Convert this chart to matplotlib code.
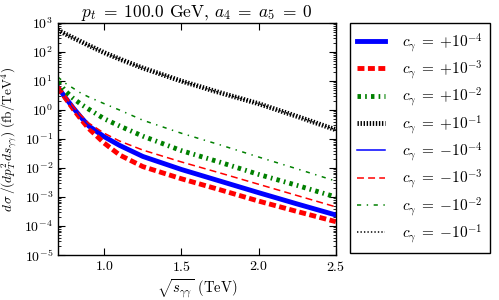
import numpy as np
import matplotlib
matplotlib.use("Agg")
import matplotlib.pyplot as plt

plt.rcParams['font.family'] = 'serif'
plt.rcParams['font.serif'] = ['cmr10', 'DejaVu Serif']
plt.rcParams['mathtext.fontset'] = 'cm'
plt.rcParams['axes.unicode_minus'] = False
plt.rcParams['axes.formatter.use_mathtext'] = True
plt.rcParams['lines.scale_dashes'] = False

# sqrt(s) grid in TeV, curves as log10 of the cross section
sqrt_s = [0.7, 0.75, 0.8, 0.85, 0.9, 1.0, 1.1, 1.25, 1.5, 1.75, 2.0, 2.25, 2.5]

log_p4 = [0.79, 0.42, 0.07, -0.25, -0.55, -0.92, -1.22, -1.60, -2.05, -2.45, -2.85, -3.24, -3.62]
log_p3 = [0.79, 0.40, 0.03, -0.32, -0.64, -1.14, -1.55, -1.95, -2.37, -2.75, -3.14, -3.50, -3.85]
log_p2 = [0.97, 0.65, 0.40, 0.20, 0.03, -0.30, -0.55, -0.90, -1.40, -1.80, -2.22, -2.60, -3.00]
log_p1 = [2.76, 2.62, 2.49, 2.36, 2.23, 1.98, 1.76, 1.45, 1.00, 0.60, 0.22, -0.22, -0.68]
log_m4 = log_p4
log_m3 = [0.79, 0.44, 0.12, -0.18, -0.45, -0.80, -1.07, -1.38, -1.79, -2.17, -2.56, -2.95, -3.34]
log_m2 = [1.14, 0.92, 0.75, 0.58, 0.45, 0.22, 0.00, -0.35, -0.80, -1.20, -1.62, -2.03, -2.45]
log_m1 = log_p1

labels = [r'$c_\gamma\;=\;{+}10^{-4}$', r'$c_\gamma\;=\;{+}10^{-3}$', r'$c_\gamma\;=\;{+}10^{-2}$',
          r'$c_\gamma\;=\;{+}10^{-1}$', r'$c_\gamma\;=\;{-}10^{-4}$', r'$c_\gamma\;=\;{-}10^{-3}$',
          r'$c_\gamma\;=\;{-}10^{-2}$', r'$c_\gamma\;=\;{-}10^{-1}$']
curves = [log_p4, log_p3, log_p2, log_p1, log_m4, log_m3, log_m2, log_m1]
colors = ['blue', 'red', 'green', 'black'] * 2
dashes = [None, (5, 2.5), (2.5, 3, 1.2, 3), (1, 1.2),
          None, (5, 3), (3, 4, 1, 4), (1, 1.5)]
widths = [3.5] * 4 + [1.1] * 4

fig = plt.figure(figsize=(4.99, 3.0), dpi=100)
ax = fig.add_axes([0.116, 0.15, 0.557, 0.773])

x = np.array(sqrt_s)
for i in range(8):
    line, = ax.plot(x, 10 ** np.array(curves[i]), color=colors[i], lw=widths[i], label=labels[i])
    if dashes[i] is not None:
        line.set_dashes(dashes[i])
        line.set_dash_capstyle('butt')

ax.set_yscale('log')
ax.set_xlim(0.7, 2.5)
ax.set_ylim(1e-5, 1e3)
ax.set_xticks([1.0, 1.5, 2.0, 2.5])
ax.set_yticks([10.0 ** k for k in range(-5, 4)])
ax.tick_params(which='both', direction='in', top=True, right=True, labelsize=10)
ax.tick_params(which='major', length=5)
ax.tick_params(which='minor', length=2.5)
for s in ax.spines.values():
    s.set_linewidth(1.0)

ax.set_title(r'$p_t\;=\;100.0$ GeV, $a_4\;=\;a_5\;=\;0$', fontsize=12.5, pad=4)
ax.set_xlabel(r'$\sqrt{s_{\gamma\gamma}}$ (TeV)', fontsize=10.5, labelpad=2)
ax.set_ylabel(r'$d\,\sigma\,/(dp_T^2\,ds_{\gamma\gamma})$ (fb/TeV$^4$)', fontsize=9.5, labelpad=4)

leg = fig.legend(loc='upper left', bbox_to_anchor=(0.701, 0.923), borderaxespad=0,
                 fontsize=11, fancybox=False, framealpha=1, edgecolor='black',
                 labelspacing=0.3, handlelength=1.8, handletextpad=1.1, borderpad=0.5)
leg.get_frame().set_linewidth(1.0)

fig.savefig('out.png', dpi=100)
